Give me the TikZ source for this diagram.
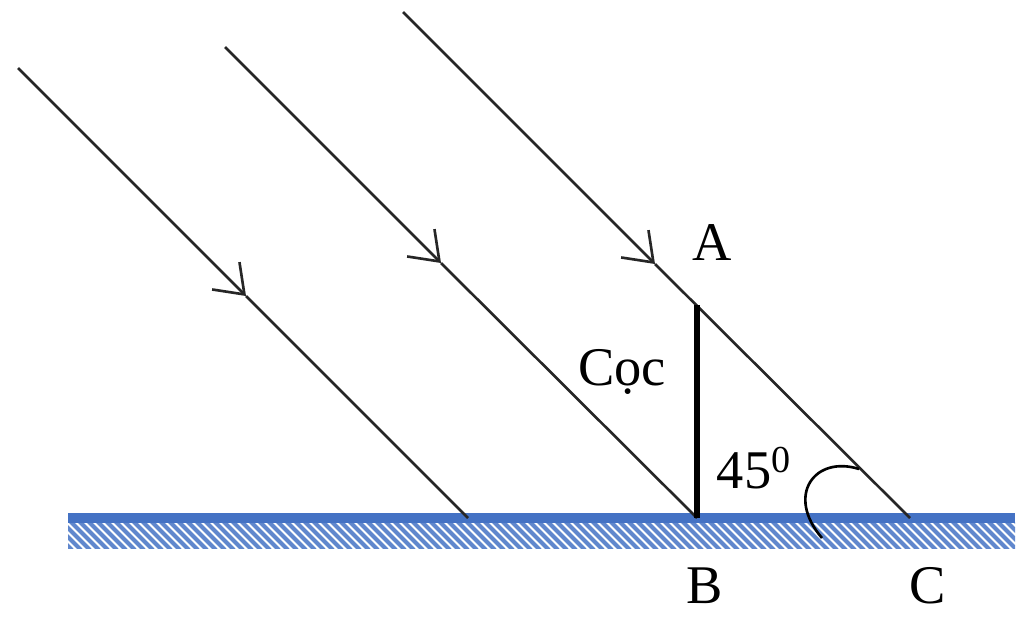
\documentclass[tikz,border=0pt]{standalone}
\usepackage{fontspec}
\setmainfont{Liberation Serif}
\usetikzlibrary{arrows.meta}
\definecolor{gblue}{RGB}{68,114,196}
\begin{document}
\begin{tikzpicture}[x={(0.02cm,0)},y={(0,-0.02cm)},
  ray/.style={line width=1.5pt,black!85},
  tipped/.style={ray,-{Straight Barb[length=15pt,width=22pt,line width=1.5pt]}},
  lbl/.style={font=\fontsize{31}{31}\selectfont,inner sep=0pt}]
\useasboundingbox (0,0) rectangle (1024,620);
% ground
\begin{scope}
\clip (68,522) rectangle (1015,548);
\foreach \x in {40,49,...,1020}
  \draw[gblue!85,line width=2.4pt] (\x,518) -- (\x+32,550);
\end{scope}
\draw[gblue,line width=5.5pt] (68,518) -- (1015,518);
% points
\coordinate (A) at (697,305);
\coordinate (B) at (697,518);
\coordinate (C) at (910,518);
\coordinate (D) at (468,518);
\coordinate (s1) at (18,68);
\coordinate (s2) at (225,47);
\coordinate (s3) at (403,12);
\coordinate (t1) at (246,296);
\coordinate (t2) at (441,263);
\coordinate (t3) at (655,264);
% rays
\draw[tipped] (s1) -- (t1);
\draw[ray] (t1) -- (D);
\draw[tipped] (s2) -- (t2);
\draw[ray] (t2) -- (B);
\draw[tipped] (s3) -- (t3);
\draw[ray] (t3) -- (C);
% pole
\draw[line width=3.6pt] (B) -- (A);
% angle arc
\coordinate (a1) at (859,469);
\coordinate (a2) at (822,538);
\draw[line width=1.5pt] (a1) .. controls (815,455) and (785,495) .. (a2);
% labels
\node[lbl] (lA) at (712,243) {A};
\node[lbl] (lB) at (705,586) {B};
\node[lbl] (lC) at (928,586) {C};
\node[lbl] (lcoc) at (622,372) {Cọc};
\node[lbl] (l45) at (754,468) {45\textsuperscript{0}};
\end{tikzpicture}
\end{document}
